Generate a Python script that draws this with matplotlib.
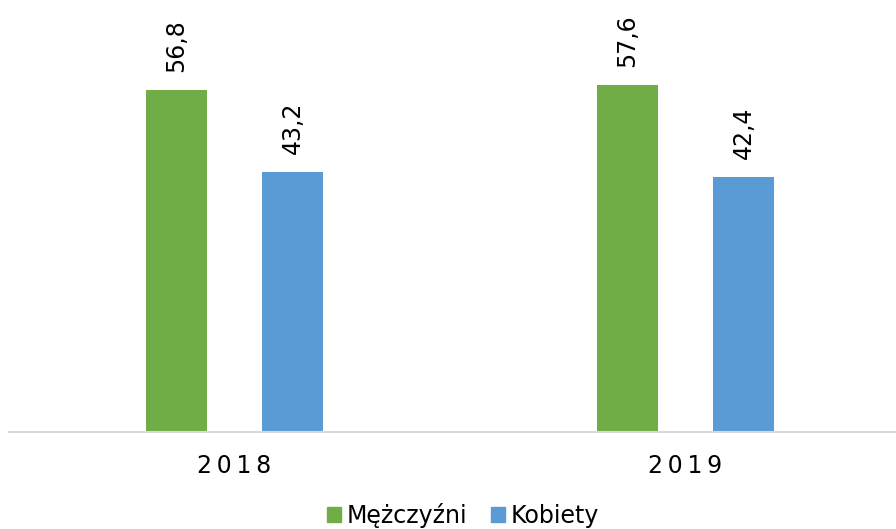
import numpy as np
from matplotlib import pyplot as plt
from matplotlib.patches import Patch

# dane
years = ["2018", "2019"]
men = [56.8, 57.6]
women = [43.2, 42.4]
series_names = ["Mężczyźni", "Kobiety"]

plt.rcParams['font.family'] = ['DejaVu Sans']

fig = plt.figure(figsize=(8.96, 5.29), dpi=100)
ax = fig.add_axes([9/896, 97/529, 887/896, 432/529])

x = np.arange(len(years))
w = 0.135
off = 0.1286
green = "#70AD47"
blue = "#5B9BD5"
b1 = ax.bar(x - off, men, w, color=green)
b2 = ax.bar(x + off, women, w, color=blue)

# etykiety wartości
for bars, vals in [(b1, men), (b2, women)]:
    for b, v in zip(bars, vals):
        ax.annotate(str(v).replace(".", ","), (b.get_x() + b.get_width()/2, v),
                    xytext=(0, 13), textcoords="offset points",
                    rotation=90, ha="center", va="bottom", fontsize=17)

ax.set_xlim(-0.5, 1.4667)
ax.set_ylim(0, 432/6.02)
ax.set_xticks(x)
# rozstrzelone cyfry jak w oryginale
ax.set_xticklabels(["\u2009".join(y) for y in years], fontsize=17)
ax.tick_params(axis="x", length=0, pad=16)
ax.set_yticks([])
for s in ["top", "right", "left"]:
    ax.spines[s].set_visible(False)
ax.spines["bottom"].set_color("#D9D9D9")
ax.spines["bottom"].set_linewidth(1.5)

handles = [Patch(color=green), Patch(color=blue)]
fig.legend(handles, series_names, loc="center", bbox_to_anchor=(463/896, 1 - 515/529),
           ncol=2, frameon=False, fontsize=17, handlelength=0.6, handleheight=0.6,
           handletextpad=0.25, columnspacing=1.0, borderpad=0)

fig.savefig("out.png", dpi=100)
